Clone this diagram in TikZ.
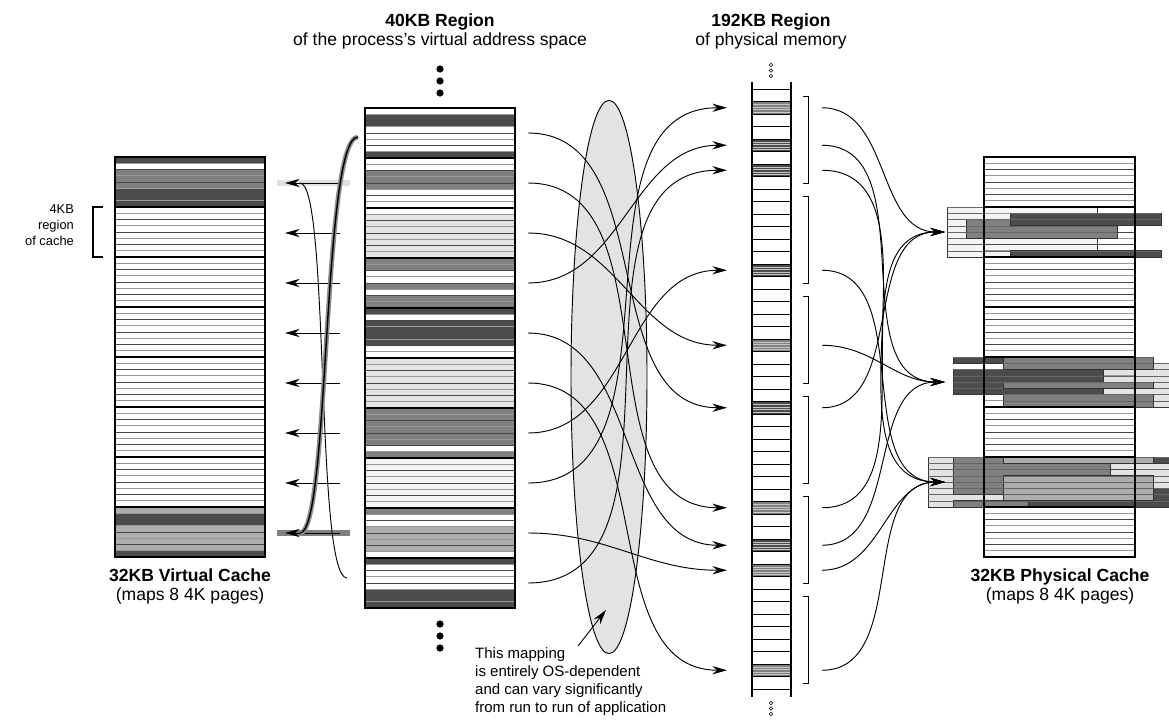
\documentclass[tikz,border=0pt]{standalone}
\usepackage{fontspec}
\setmainfont{Liberation Sans}
\usepackage{tikz}
\usetikzlibrary{arrows.meta, positioning, shapes.geometric}

\definecolor{darkfill}{gray}{0.30}
\definecolor{midfill}{gray}{0.50}
\definecolor{lgfill}{gray}{0.68}
\definecolor{palefill}{gray}{0.89}
\definecolor{faintfill}{gray}{0.955}

% fill rows #4..#5 of the region starting at #3, between x=#1 and x=#2
\newcommand{\rowband}[6]{%
  \fill[#6] (#1,{#3+#4*6.25}) rectangle (#2,{#3+(#5+1)*6.25});}
% an outlined bar of cache lines
\newcommand{\pagebar}[6]{%
  \filldraw[fill=#6, draw=black!80, line width=0.5pt] (#1,{#3+#4*6.25}) rectangle (#2,{#3+(#5+1)*6.25});
  \foreach \r in {#4,...,#5} \draw[black!60, line width=0.4pt] (#1,{#3+\r*6.25}) -- (#2,{#3+\r*6.25});}
% thin line stripes of a cache column
\newcommand{\stripes}[5]{%
  \foreach \r in {1,3,...,#4} \draw[rowa] (#1,{#3+\r*6.25}) -- (#2,{#3+\r*6.25});
  \foreach \r in {2,4,...,#5} \draw[rowb] (#1,{#3+\r*6.25}) -- (#2,{#3+\r*6.25});}

\begin{document}
\begin{tikzpicture}[x=0.03cm, y=-0.03cm, >={Stealth[length=12.5pt,width=7pt]},
  font=\fontsize{15}{16.5}\selectfont,
  rowa/.style={line width=0.5pt, black!40},
  rowb/.style={line width=0.5pt, black!72},
  regionline/.style={line width=1.7pt},
  boxline/.style={line width=1.1pt},
  link/.style={->, line width=0.8pt},
  caption/.style={align=center, font=\fontsize{15}{16.2}\selectfont}]
  \useasboundingbox (0,0) rectangle (1169,720);

  % ---------- mapping cloud ----------
  \node[ellipse, draw, line width=0.8pt, fill=palefill, minimum width=2.28cm,
        minimum height=16.6cm, inner sep=0pt] (oscloud) at (609,377) {};

  % ---------- virtual cache (left) ----------
  \rowband{115}{265}{157}{0}{0}{darkfill}
  \rowband{115}{265}{157}{2}{4}{midfill}
  \rowband{115}{265}{157}{5}{7}{darkfill}
  \rowband{115}{265}{507}{0}{0}{lgfill}
  \rowband{115}{265}{507}{1}{2}{darkfill}
  \rowband{115}{265}{507}{3}{6}{lgfill}
  \rowband{115}{265}{507}{7}{7}{darkfill}
  \stripes{115}{265}{157}{63}{62}
  \foreach \i in {1,...,7} \draw[regionline] (115,{157+50*\i}) -- (265,{157+50*\i});
  \draw[boxline] (115,157) rectangle (265,557);

  % ---------- virtual address space (middle) ----------
  \rowband{365}{515}{108}{1}{2}{darkfill}
  \rowband{365}{515}{108}{7}{7}{darkfill}
  \rowband{365}{515}{158}{2}{4}{midfill}
  \rowband{365}{515}{208}{1}{7}{palefill}
  \rowband{365}{515}{258}{0}{1}{midfill}
  \rowband{365}{515}{258}{4}{4}{midfill}
  \rowband{365}{515}{258}{6}{7}{midfill}
  \rowband{365}{515}{308}{0}{0}{darkfill}
  \rowband{365}{515}{308}{2}{5}{darkfill}
  \rowband{365}{515}{358}{0}{7}{palefill}
  \rowband{365}{515}{408}{0}{5}{midfill}
  \rowband{365}{515}{408}{7}{7}{midfill}
  \rowband{365}{515}{458}{0}{7}{faintfill}
  \rowband{365}{515}{508}{0}{0}{midfill}
  \rowband{365}{515}{508}{3}{6}{lgfill}
  \rowband{365}{515}{558}{0}{0}{darkfill}
  \rowband{365}{515}{558}{5}{7}{darkfill}
  \stripes{365}{515}{108}{79}{78}
  \foreach \i in {1,...,9} \draw[regionline] (365,{108+50*\i}) -- (515,{108+50*\i});
  \draw[boxline] (365,108) rectangle (515,608);
  \foreach \y in {69,81,93,624,636,648} \fill (440,\y) circle [radius=3.6];

  % ---------- physical memory ----------
  \foreach \c/\f in {1/midfill, 4/darkfill, 6/darkfill, 14/darkfill, 20/midfill,
                     25/darkfill, 33/midfill, 36/darkfill, 38/midfill, 46/midfill} {
    \fill[\f] (752,{89+12.5*\c}) rectangle (791,{89+12.5*(\c+1)});
    \foreach \s in {3,5.5,8,10.5}
      \draw[black!22, line width=0.35pt] (752,{89+12.5*\c+\s}) -- (791,{89+12.5*\c+\s});
  }
  \foreach \c in {0,...,48} \draw[line width=0.75pt] (752,{89+12.5*\c}) -- (791,{89+12.5*\c});
  \draw[line width=0.9pt] (752,82) -- (752,697) (791,82) -- (791,697);
  \foreach \y in {65,70.5,76,703,708.5,714} \draw[line width=0.5pt] (771,\y) circle [radius=1.7];
  \foreach \g in {0,...,5}
    \draw[line width=0.8pt] (803,{96+100*\g}) -- (808,{96+100*\g}) -- (808,{183+100*\g}) -- (803,{183+100*\g});

  % ---------- physical cache (right) ----------
  \pagebar{947}{1097}{207}{0}{7}{faintfill}
  \pagebar{1103}{1172}{357}{1}{7}{palefill}
  \pagebar{928}{1172}{457}{0}{7}{palefill}
  \stripes{984}{1135}{157}{63}{62}
  % region 1
  \pagebar{966}{1117}{207}{2}{4}{midfill}
  \pagebar{1010}{1161}{207}{1}{2}{darkfill}
  \pagebar{1010}{1161}{207}{7}{7}{darkfill}
  % region 4
  \pagebar{953}{1103}{357}{0}{0}{darkfill}
  \pagebar{953}{1103}{357}{2}{5}{darkfill}
  \pagebar{1003}{1153}{357}{0}{1}{midfill}
  \pagebar{1003}{1153}{357}{4}{4}{midfill}
  \pagebar{1003}{1153}{357}{6}{7}{midfill}
  % region 6
  \pagebar{953}{1110}{457}{0}{5}{midfill}
  \pagebar{953}{1110}{457}{7}{7}{midfill}
  \pagebar{1028}{1172}{457}{0}{0}{darkfill}
  \pagebar{1028}{1172}{457}{5}{7}{darkfill}
  \pagebar{1003}{1153}{457}{0}{0}{lgfill}
  \pagebar{1003}{1153}{457}{3}{6}{lgfill}
  \foreach \i in {1,...,7} \draw[regionline] (984,{157+50*\i}) -- (1135,{157+50*\i});
  \draw[boxline] (984,157) rectangle (1135,557);

  % ---------- anchors for the connectors ----------
  \foreach \k in {0,...,9} \coordinate (vp\k) at (528,{133+50*\k});
  \foreach \c in {1,4,6,14,20,25,33,36,38,46} {
    \coordinate (pin\c) at (727,{95.25+12.5*\c});
    \coordinate (pout\c) at (822,{95.25+12.5*\c});
  }
  \coordinate (pc1) at (945,232);
  \coordinate (pc4) at (945,382);
  \coordinate (pc6) at (945,482);
  \foreach \i in {0,...,7} {
    \coordinate (vsrc\i) at (340,{183+50*\i});
    \coordinate (vdst\i) at (285,{183+50*\i});
  }
  \coordinate (wraptop) at (300,183);
  \coordinate (wrapbot) at (300,533);
  \coordinate (wraplow) at (347,578);
  \coordinate (wraphigh) at (358,137);

  % ---------- virtual page -> virtual cache ----------
  \draw[line width=5pt, black!12] (277,183) -- (350,183);
  \draw[line width=5pt, black!50] (277,533) -- (350,533);
  \foreach \i in {0,...,7} \draw[link] (vsrc\i) -- (vdst\i);
  \draw[line width=0.8pt] (wraptop) .. controls (330,183) and (315,578) .. (wraplow);
  \draw[line width=4pt, black!45] (wraphigh) .. controls (322,137) and (330,533) .. (wrapbot);
  \draw[line width=1.2pt] (wraphigh) .. controls (322,137) and (330,533) .. (wrapbot);

  % ---------- virtual page -> physical page ----------
  \foreach \k/\c in {0/25, 1/33, 2/20, 3/4, 4/36, 5/46, 6/14, 7/1, 8/38, 9/6}
    \draw[link] (vp\k) to[out=0, in=180] (pin\c);

  % ---------- physical page -> physical cache ----------
  \foreach \c/\t in {1/1, 4/4, 6/6, 14/6, 20/4, 25/1, 33/1, 36/4, 38/6, 46/6}
    \draw[link] (pout\c) to[out=0, in=180] (pc\t);

  % ---------- labels ----------
  \node[caption] (vaslabel) at (440,31) {\textbf{40KB Region}\\of the process's virtual address space};
  \node[caption] (pmlabel) at (771,31) {\textbf{192KB Region}\\of physical memory};
  \node[caption] (vclabel) at (190,586) {\textbf{32KB Virtual Cache}\\(maps 8 4K pages)};
  \node[caption] (pclabel) at (1060,586) {\textbf{32KB Physical Cache}\\(maps 8 4K pages)};
  \node[align=right, anchor=east, font=\fontsize{11}{13.6}\selectfont] (regionlabel) at (78,225) {4KB\\region\\of cache};
  \draw[line width=1.2pt] (103,207) -- (93,207) -- (93,257) -- (103,257);
  \node[align=left, anchor=north west, inner sep=0pt, font=\fontsize{12.8}{15.6}\selectfont] (mapnote) at (475,647)
    {This mapping\\is entirely OS-dependent\\and can vary significantly\\from run to run of application};
  \coordinate (notetip) at (606,610);
  \draw[link] (578,646) -- (notetip);
\end{tikzpicture}
\end{document}
